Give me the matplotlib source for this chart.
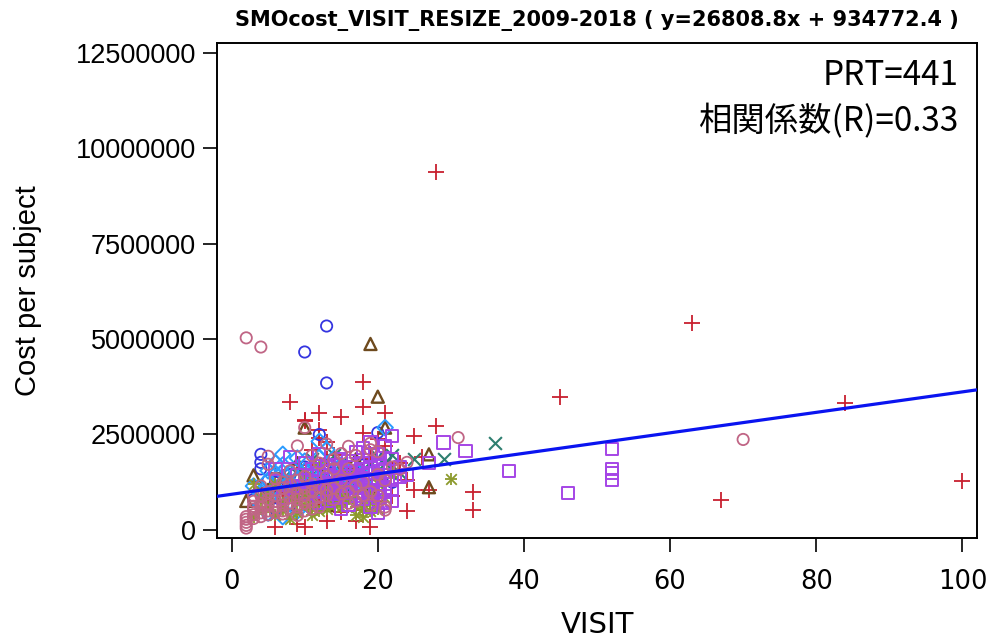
import numpy as np
import matplotlib
matplotlib.use("Agg")
import matplotlib.pyplot as plt
from matplotlib import font_manager

# ---- data: visits per subject vs. cost per subject (cost in millions of yen) ----
plus_visit = [28, 63, 45, 84, 67, 100, 8, 18, 18, 12,
              15, 21, 10, 12, 18, 25, 28, 26, 25, 27,
              33, 33, 24, 6, 9, 10, 13, 17, 19, 15,
              18, 6, 11, 14, 16, 13, 9, 19, 20, 17,
              12, 16, 8, 10, 14, 20, 19, 11, 15, 22,
              7, 9, 17, 13, 12, 21, 18, 23, 5, 10,
              12, 20, 14, 7, 16, 11, 24, 4, 22, 13]
plus_cost = [9.37, 5.42, 3.49, 3.33, 0.78, 1.28, 3.36, 3.88, 3.23, 3.07,
             2.97, 3.07, 2.86, 2.63, 2.55, 2.45, 2.73, 1.90, 1.04, 1.04,
             0.99, 0.52, 0.50, 0.08, 0.16, 0.08, 0.23, 0.23, 0.08, 0.47,
             0.52, 1.50, 1.75, 1.95, 1.62, 1.10, 0.95, 1.85, 1.30, 0.80,
             0.62, 1.20, 1.30, 1.20, 0.70, 0.75, 2.00, 2.10, 1.45, 1.60,
             1.00, 1.70, 1.70, 2.30, 1.45, 2.20, 1.00, 1.75, 0.70, 2.89,
             2.42, 2.37, 1.15, 1.40, 0.95, 0.65, 1.30, 1.10, 0.90, 1.85]

rose_visit = [2, 4, 70, 31, 21, 2, 2, 2, 2, 2,
              3, 3, 3, 3, 4, 4, 4, 4, 5, 5,
              5, 5, 6, 6, 6, 6, 6, 7, 7, 7,
              7, 7, 8, 8, 8, 8, 8, 9, 9, 9,
              9, 10, 10, 10, 10, 10, 11, 11, 11, 12,
              12, 12, 13, 13, 13, 14, 14, 14, 15, 15,
              16, 16, 16, 17, 17, 18, 18, 19, 19, 20,
              20, 21, 22, 11, 15, 19, 20, 16, 19, 23,
              24, 5, 5, 10, 9, 13, 3, 4, 6, 8,
              12, 14, 17, 21, 3, 4, 5, 7, 9, 11]
rose_cost = [5.03, 4.79, 2.37, 2.42, 0.52, 0.05, 0.12, 0.20, 0.28, 0.35,
             0.40, 0.55, 0.62, 0.75, 0.45, 0.58, 0.70, 0.90, 0.50, 0.65,
             0.80, 1.00, 0.45, 0.60, 0.75, 0.90, 1.05, 0.50, 0.65, 0.80,
             1.10, 1.25, 0.55, 0.70, 0.85, 1.00, 1.20, 0.60, 0.80, 0.95,
             1.30, 0.50, 0.70, 0.90, 1.10, 1.40, 0.75, 1.00, 1.20, 0.60,
             0.85, 1.10, 0.90, 1.40, 1.05, 0.80, 1.10, 1.60, 0.95, 1.30,
             0.70, 1.00, 1.60, 1.15, 0.75, 0.90, 1.25, 1.00, 0.65, 0.90,
             1.45, 1.30, 1.65, 1.95, 2.00, 2.10, 2.05, 2.19, 2.27, 1.59,
             1.77, 1.93, 1.72, 2.68, 2.20, 2.25, 0.90, 1.15, 1.35, 1.55,
             1.75, 1.85, 1.95, 0.60, 0.30, 0.35, 0.40, 0.42, 0.38, 0.55]

blue_visit = [13, 10, 13, 20, 12, 4, 4, 22, 4, 5,
              9, 14, 17, 7, 10, 15, 21, 6, 12, 18,
              3, 11, 16, 8, 19, 14, 13, 6, 20, 9,
              5, 8]
blue_cost = [5.34, 4.66, 3.85, 2.55, 2.50, 1.98, 1.77, 1.25, 1.60, 1.30,
             1.10, 1.50, 1.40, 0.90, 1.65, 0.80, 1.90, 0.55, 1.00, 1.70,
             0.80, 1.30, 1.10, 1.45, 1.55, 0.95, 1.75, 1.25, 1.05, 0.60,
             0.40, 0.65]

tri_visit = [19, 20, 10, 27, 27, 3, 2, 21, 8, 14,
             12, 17, 6, 16, 11, 19, 9, 13, 15, 5]
tri_cost = [4.87, 3.49, 2.68, 1.98, 1.12, 1.43, 0.76, 2.68, 1.20, 1.00,
            1.55, 1.85, 0.90, 1.35, 1.40, 1.05, 1.75, 0.65, 1.60, 1.05]

cross_visit = [36, 25, 29, 22, 20, 18, 15, 13, 11, 9,
               16, 14, 19, 12, 17, 21, 7, 10, 23]
cross_cost = [2.29, 1.85, 1.85, 1.95, 1.90, 1.60, 1.75, 1.30, 1.85, 1.50,
              1.05, 1.95, 1.25, 0.95, 1.45, 1.75, 1.35, 1.00, 1.50]

diamond_visit = [21, 12, 12, 14, 7, 7, 9, 5, 4, 6,
                 8, 10, 11, 13, 9, 5, 6, 8, 15, 10,
                 7, 12, 14, 11, 16, 13, 4, 17, 6, 8,
                 9, 15, 3, 18, 10, 5, 11, 19, 7, 12,
                 6, 8, 10, 14, 16, 9, 11, 13, 5, 7]
diamond_cost = [2.68, 2.32, 0.70, 0.76, 1.70, 1.98, 1.88, 1.30, 1.00, 0.60,
                1.50, 1.25, 0.55, 1.60, 0.85, 0.45, 1.10, 0.75, 1.15, 1.80,
                0.35, 1.90, 1.40, 1.05, 0.90, 2.10, 0.65, 1.55, 1.45, 1.05,
                0.50, 1.70, 1.15, 1.20, 0.70, 0.85, 1.60, 1.45, 0.95, 1.30,
                1.75, 1.25, 1.55, 1.10, 1.30, 1.35, 1.45, 1.20, 1.55, 1.50]

star_visit = [30, 3, 3, 4, 5, 6, 7, 8, 9, 10,
              11, 12, 13, 14, 15, 16, 17, 18, 19, 20,
              8, 10, 12, 14, 16, 18, 6, 9, 11, 13,
              15, 17, 19, 21, 7, 5, 22, 4, 20, 12,
              9, 11, 13, 15, 17, 19, 10, 14]
star_cost = [1.33, 1.20, 0.35, 0.55, 0.95, 0.40, 0.70, 0.30, 0.45, 0.65,
             0.90, 0.50, 0.85, 1.05, 0.60, 0.80, 0.95, 0.55, 0.70, 1.20,
             0.90, 1.50, 1.70, 1.25, 1.45, 0.35, 1.20, 1.05, 0.40, 0.55,
             0.90, 0.60, 0.95, 0.85, 0.50, 0.60, 1.50, 0.85, 0.55, 1.15,
             0.75, 0.65, 1.00, 0.75, 0.40, 0.50, 0.95, 0.65]

square_visit = [52, 52, 52, 52, 46, 38, 32, 29, 27, 22,
                21, 23, 20, 19, 18, 17, 16, 15, 14, 13,
                12, 11, 10, 9, 8, 7, 20, 19, 18, 17,
                16, 15, 14, 13, 12, 19, 20, 18, 21, 22,
                17, 16, 15, 21, 14, 19, 20, 18, 13, 12,
                10, 11, 9, 17, 16, 22, 20, 21, 19, 18,
                6, 8, 13, 14, 15, 16, 17, 18, 19, 20,
                21, 22, 12, 14, 16, 18, 20, 15, 17, 19,
                11, 13, 21, 22, 23, 24, 10, 12, 14, 16,
                18, 20, 15, 17, 19, 21, 13, 16, 18, 20,
                12, 14]
square_cost = [2.13, 1.60, 1.50, 1.30, 0.96, 1.54, 2.06, 2.29, 1.75, 2.45,
               2.21, 1.38, 1.70, 1.95, 1.30, 2.05, 1.50, 1.85, 1.20, 1.65,
               1.00, 1.40, 1.75, 1.15, 1.90, 0.85, 1.00, 0.60, 1.60, 0.90,
               1.15, 0.55, 1.55, 0.75, 2.00, 1.25, 0.45, 0.80, 1.45, 1.05,
               1.30, 1.80, 1.00, 0.70, 0.85, 2.30, 2.00, 2.15, 1.20, 1.25,
               0.95, 1.60, 1.45, 1.10, 0.65, 0.75, 1.55, 1.20, 0.95, 1.45,
               1.60, 1.10, 1.45, 1.35, 1.25, 1.30, 1.55, 1.10, 1.65, 1.35,
               1.00, 1.30, 1.50, 1.00, 1.65, 1.75, 1.20, 1.60, 1.40, 1.05,
               1.25, 1.05, 1.60, 1.85, 1.65, 1.45, 1.30, 0.90, 1.70, 1.40,
               1.35, 1.75, 1.15, 1.20, 1.50, 1.10, 1.55, 1.25, 1.00, 0.85,
               0.70, 0.95]

# fitted line and summary statistics shown on the chart
slope = 26808.8
intercept = 934772.4
n_subjects = 441
corr_r = 0.33

x_ticks = [0, 20, 40, 60, 80, 100]
y_ticks = [0, 2500000, 5000000, 7500000, 10000000, 12500000]

MILLION = 1e6

# ---- fonts ----
available = {f.name for f in font_manager.fontManager.ttflist}
narrow = "Liberation Sans Narrow" if "Liberation Sans Narrow" in available else "DejaVu Sans"
sans = ["Liberation Sans", "DejaVu Sans"]
cjk = ["Noto Sans CJK JP", "DejaVu Sans"]

fig = plt.figure(figsize=(9.87, 6.44), dpi=100)
ax = fig.add_axes([217 / 987, 1 - 538 / 644, 760 / 987, 495 / 644])

lw = 1.1
ms = 66


def hollow(xs, ys, marker, color, size=ms, lw_=lw):
    ax.scatter(xs, np.asarray(ys) * MILLION, marker=marker, s=size,
               facecolors="none", edgecolors=color, linewidths=lw_, zorder=3)


def stroked(xs, ys, marker, color, size=ms, lw_=lw):
    ax.scatter(xs, np.asarray(ys) * MILLION, marker=marker, s=size,
               c=color, linewidths=lw_, zorder=3)


stroked(plus_visit, plus_cost, "+", "#C8202F", size=120, lw_=1.3)
hollow(blue_visit, blue_cost, "o", "#3535E0", lw_=1.3)
hollow(tri_visit, tri_cost, "^", "#6E4A1E", size=75, lw_=1.7)
stroked(cross_visit, cross_cost, "x", "#2E7F70", size=85, lw_=1.5)
hollow(diamond_visit, diamond_cost, "D", "#2A9BFF", size=64, lw_=1.4)
stroked(star_visit, star_cost, "+", "#8C9A2C", size=80, lw_=1.3)
stroked(star_visit, star_cost, "x", "#8C9A2C", size=58, lw_=1.3)
hollow(square_visit, square_cost, "s", "#A545E6", size=76, lw_=1.4)
hollow(rose_visit, rose_cost, "o", "#C06585", lw_=1.3)

# regression line across the full plotting region
ax.axline((0, intercept), slope=slope, color="#0A14F0", linewidth=2.3, zorder=4)

ax.set_xlim(-2.0, 102.0)
ax.set_ylim(-0.21e6, 12.75e6)

ax.set_xticks(x_ticks)
ax.set_xticklabels([str(v) for v in x_ticks], fontfamily=narrow, fontsize=18.5)
ax.set_yticks(y_ticks)
ax.set_yticklabels([str(v) for v in y_ticks], fontfamily=sans, fontsize=19.5)
ax.tick_params(axis="both", direction="out", length=10, width=1.2, color="black")
ax.tick_params(axis="x", pad=12)
ax.tick_params(axis="y", pad=5)

for sp in ax.spines.values():
    sp.set_linewidth(1.4)
    sp.set_color("black")

ax.set_xlabel("VISIT", fontfamily=narrow, fontsize=21, labelpad=12)
ax.set_ylabel("Cost per subject", fontfamily=sans, fontsize=21, labelpad=24)

ax.set_title(f"SMOcost_VISIT_RESIZE_2009-2018 ( y={slope}x + {intercept} )",
             fontfamily=narrow, fontweight="bold", fontsize=15, pad=12)

ax.text(0.976, 0.935, f"PRT={n_subjects}", transform=ax.transAxes,
        ha="right", va="center", fontsize=24, fontfamily=cjk)
ax.text(0.976, 0.84, f"相関係数(R)={corr_r}", transform=ax.transAxes,
        ha="right", va="center", fontsize=24, fontfamily=cjk)

fig.savefig("out.png", dpi=100)
